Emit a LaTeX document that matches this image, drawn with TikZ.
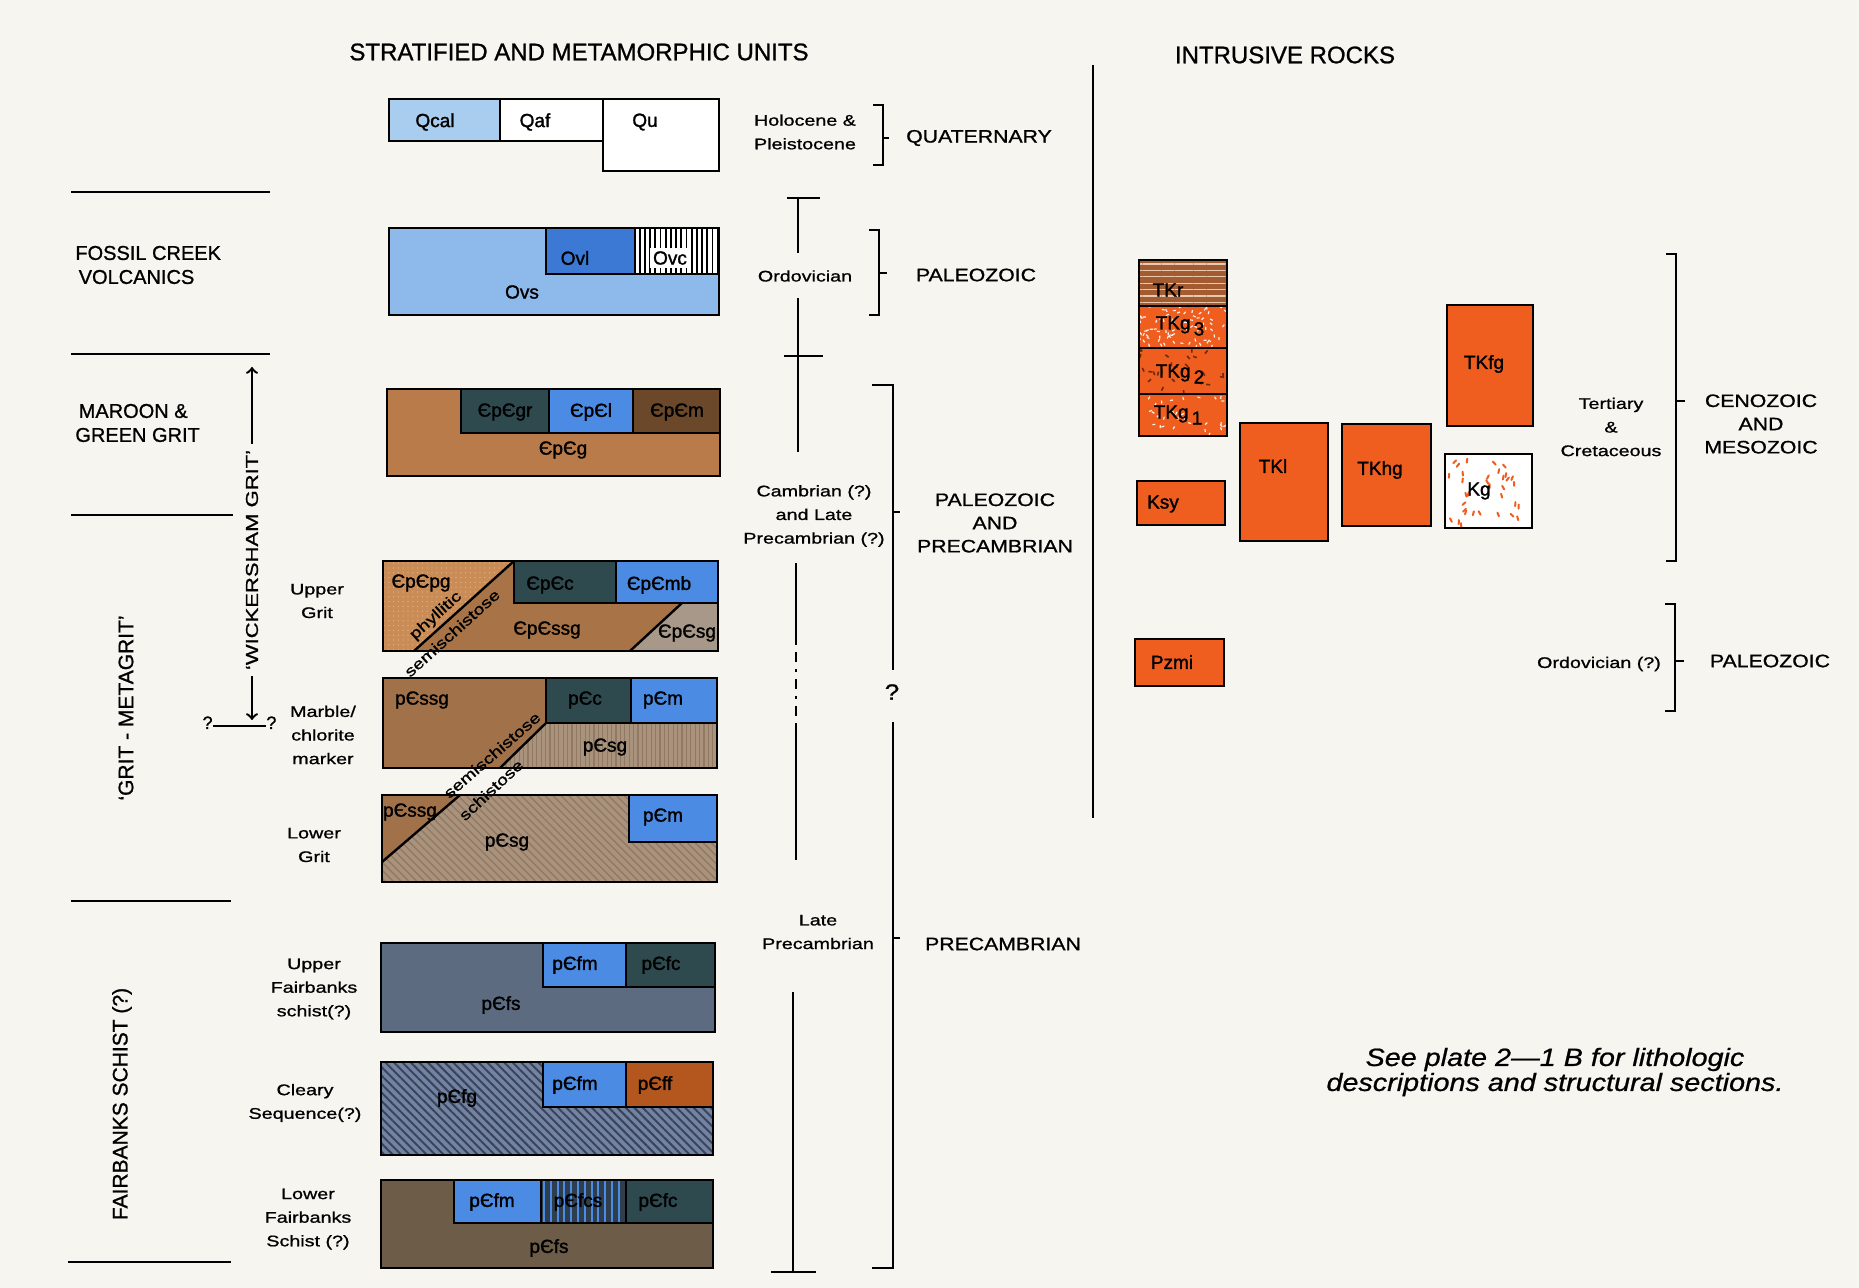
\documentclass[tikz,border=0pt]{standalone}
\usepackage{fontspec}
\setmainfont{Liberation Sans}[FakeBold=1.0]
\newfontfamily\unitfont[FakeBold=1.4]{Liberation Sans}
\newfontfamily\widefont[FakeStretch=1.28,FakeBold=1.0]{Liberation Sans}
\newfontfamily\erafont[FakeStretch=1.18,FakeBold=1.0]{Liberation Sans}
\newfontfamily\notefont[FakeStretch=1.15,FakeBold=0.8]{Liberation Sans}
\usetikzlibrary{patterns.meta}
\definecolor{paper}{HTML}{F6F5EF}
\definecolor{qblue}{HTML}{A9CDEF}
\definecolor{ovsblue}{HTML}{8DBAEA}
\definecolor{ovlblue}{HTML}{3B79D4}
\definecolor{unitblue}{HTML}{4B8BE4}
\definecolor{slate}{HTML}{2E4A4F}
\definecolor{gritbrown}{HTML}{B97B4A}
\definecolor{maroon}{HTML}{6A4829}
\definecolor{phyll}{HTML}{CA8C56}
\definecolor{phylldot}{HTML}{E4B081}
\definecolor{semibrown}{HTML}{A87447}
\definecolor{schgray}{HTML}{A8988A}
\definecolor{pssg}{HTML}{A1714A}
\definecolor{psg}{HTML}{AA937D}
\definecolor{psgline}{HTML}{917964}
\definecolor{fsblue}{HTML}{5C6B80}
\definecolor{fgblue}{HTML}{7283A3}
\definecolor{fgline}{HTML}{3A4358}
\definecolor{ffbrown}{HTML}{B4571F}
\definecolor{fsolive}{HTML}{6C5C48}
\definecolor{fcsdark}{HTML}{2F3E4C}
\definecolor{intr}{HTML}{EF5E1F}
\definecolor{tkrbrown}{HTML}{A35C31}
\definecolor{tkrline}{HTML}{E8C9AE}
\definecolor{fleck}{HTML}{6E2A10}

\begin{document}
\begin{tikzpicture}[x=0.5pt,y=-0.5pt,
  box/.style={draw=black,line width=1.2pt},
  bar/.style={black,line width=1.2pt},
  unit/.style={inner sep=0pt,font=\unitfont\fontsize{9.5}{11}\selectfont},
  tag/.style={inner sep=0pt,align=center,font=\widefont\fontsize{7.7}{11.8}\selectfont},
  era/.style={inner sep=0pt,align=center,font=\erafont\fontsize{9}{11.6}\selectfont},
  group/.style={inner sep=0pt,align=left,font=\fontsize{10}{12}\selectfont},
  slant/.style={inner sep=0pt,font=\widefont\fontsize{7.6}{9}\selectfont},
  head/.style={inner sep=0pt,font=\fontsize{12}{14}\selectfont}]
  \useasboundingbox (0,0) rectangle (1859,1288);
  \fill[paper] (0,0) rectangle (1859,1288);
  \pgfmathsetseed{11}

  \node[head] (strathead) at (579,52) {STRATIFIED AND METAMORPHIC UNITS};
  \node[head] (intrhead) at (1285,55) {INTRUSIVE ROCKS};
  \draw[bar] (1093,65) -- (1093,818);

  % left column
  \draw[bar,line width=1.4pt] (71,192) -- (270,192);
  \draw[bar,line width=1.4pt] (71,354) -- (270,354);
  \draw[bar,line width=1.4pt] (71,515) -- (233,515);
  \draw[bar,line width=1.4pt] (71,901) -- (231,901);
  \draw[bar,line width=1.4pt] (68,1262) -- (231,1262);
  \node[group,anchor=west] (fossil) at (75,265) {FOSSIL CREEK\\\,VOLCANICS};
  \node[group,anchor=west] (maroon) at (75,423) {\,MAROON \&\\GREEN GRIT};
  \node[group,rotate=90,font=\fontsize{10.5}{12}\selectfont] (metagrit) at (126,708) {‘GRIT - METAGRIT’};
  \node[group,rotate=90,font=\fontsize{10.5}{12}\selectfont] (fbschist) at (122,1104) {FAIRBANKS SCHIST (?)};
  \node[tag,rotate=90,font=\widefont\fontsize{8.6}{10}\selectfont] (wick) at (252,560) {‘WICKERSHAM GRIT’};
  \coordinate (wtop) at (252,367);
  \coordinate (wbot) at (252,720);
  \draw[bar,->] ([yshift=3pt]wick.east) -- (wtop);
  \draw[bar,->] ([yshift=-3pt]wick.west) -- (wbot);
  \node[group,anchor=base east,font=\fontsize{9}{10}\selectfont] (qleft) at (213,729) {?};
  \node[group,anchor=base west,font=\fontsize{9}{10}\selectfont] (qright) at (266,729) {?};
  \draw[bar] ([yshift=1.6pt]qleft.base east) -- ([yshift=1.6pt]qright.base west);

  \node[tag] (upgrit) at (317,601) {Upper\\Grit};
  \node[tag] (marble) at (323,735) {Marble/\\chlorite\\marker};
  \node[tag] (lowgrit) at (314,845) {Lower\\Grit};
  \node[tag] (upfb) at (314,989) {Upper\\Fairbanks\\schist(?)};
  \node[tag] (cleary) at (305,1103) {Cleary\\Sequence(?)};
  \node[tag] (lowfb) at (308,1219) {Lower\\Fairbanks\\Schist (?)};

  % quaternary
  \draw[box,fill=qblue] (389,99) rectangle (500,141);
  \draw[box,fill=white] (500,99) rectangle (603,141);
  \draw[box,fill=white] (603,99) rectangle (719,171);
  \node[unit] (qcal) at (435,122) {Qcal};
  \node[unit] (qaf) at (535,122) {Qaf};
  \node[unit] (qu) at (645,122) {Qu};

  % fossil creek volcanics
  \draw[box,fill=ovsblue] (389,228) rectangle (719,315);
  \draw[box,fill=ovlblue] (546,228) rectangle (635,274);
  \fill[white] (635,228) rectangle (719,274);
  \fill[pattern={Lines[angle=90,distance=2.6pt,line width=0.9pt]},pattern color=black] (635,228) rectangle (719,274);
  \draw[box] (635,228) rectangle (719,274);
  \node[unit] (ovs) at (522,292) {Ovs};
  \node[unit] (ovl) at (575,258) {Ovl};
  \node[unit,fill=white,inner sep=1.5pt] (ovc) at (670,258) {Ovc};

  % maroon and green grit
  \draw[box,fill=gritbrown] (387,389) rectangle (720,476);
  \draw[box,fill=slate] (461,389) rectangle (549,433);
  \draw[box,fill=unitblue] (549,389) rectangle (633,433);
  \draw[box,fill=maroon] (633,389) rectangle (720,433);
  \node[unit] (cgr) at (505,412) {ЄpЄgr};
  \node[unit] (cl) at (591,412) {ЄpЄl};
  \node[unit] (cm) at (677,412) {ЄpЄm};
  \node[unit] (cg) at (563,450) {ЄpЄg};

  % upper grit
  \fill[semibrown] (383,561) rectangle (718,651);
  \fill[phyll] (383,561) -- (514,561) -- (414,651) -- (383,651) -- cycle;
  \fill[pattern={Dots[distance=2.4pt,radius=0.35pt]},pattern color=phylldot] (383,561) -- (514,561) -- (414,651) -- (383,651) -- cycle;
  \fill[schgray] (682,603) -- (718,603) -- (718,651) -- (630,651) -- cycle;
  \draw[box,fill=slate] (514,561) rectangle (616,603);
  \draw[box,fill=unitblue] (616,561) rectangle (718,603);
  \draw[box] (514,561) -- (414,651);
  \draw[box] (682,603) -- (630,651);
  \draw[box] (383,561) rectangle (718,651);
  \node[unit] (cpg) at (421,583) {ЄpЄpg};
  \node[unit] (cc) at (550,585) {ЄpЄc};
  \node[unit] (cmb) at (659,585) {ЄpЄmb};
  \node[unit] (cssg) at (547,630) {ЄpЄssg};
  \node[unit] (csg) at (687,633) {ЄpЄsg};

  % marble / chlorite marker
  \fill[psg] (383,678) rectangle (717,768);
  \fill[pattern={Lines[angle=90,distance=2.2pt,line width=0.6pt]},pattern color=psgline] (546,723) -- (717,723) -- (717,768) -- (500,768) -- cycle;
  \fill[pssg] (383,678) -- (546,678) -- (546,723) -- (500,768) -- (383,768) -- cycle;
  \draw[box,fill=slate] (546,678) rectangle (631,723);
  \draw[box,fill=unitblue] (631,678) rectangle (717,723);
  \draw[box] (546,723) -- (500,768);
  \draw[box] (383,678) rectangle (717,768);
  \node[unit] (pssg1) at (422,700) {pЄssg};
  \node[unit] (pc) at (585,700) {pЄc};
  \node[unit] (pm1) at (663,700) {pЄm};
  \node[unit] (psg1) at (605,747) {pЄsg};

  % lower grit
  \fill[psg] (382,795) rectangle (717,882);
  \fill[pattern={Lines[angle=-45,distance=2.8pt,line width=0.7pt]},pattern color=psgline] (382,795) rectangle (717,882);
  \fill[pssg] (382,795) -- (460,795) -- (382,862) -- cycle;
  \draw[box,fill=unitblue] (629,795) rectangle (717,842);
  \draw[box] (460,795) -- (382,862);
  \draw[box] (382,795) rectangle (717,882);
  \node[unit] (pssg2) at (410,812) {pЄssg};
  \node[unit] (psg2) at (507,842) {pЄsg};
  \node[unit] (pm2) at (663,817) {pЄm};

  % slanted grade words
  \node[slant,rotate=42] (phyllitic) at (436,616) {phyllitic};
  \node[slant,rotate=42] (semi1) at (452,633) {semischistose};
  \node[slant,rotate=41] (semi2) at (492,755) {semischistose};
  \node[slant,rotate=43] (schist) at (491,790) {schistose};

  % upper fairbanks schist
  \draw[box,fill=fsblue] (381,943) rectangle (715,1032);
  \draw[box,fill=unitblue] (543,943) rectangle (626,987);
  \draw[box,fill=slate] (626,943) rectangle (715,987);
  \node[unit] (pfs1) at (501,1005) {pЄfs};
  \node[unit] (pfm1) at (575,965) {pЄfm};
  \node[unit] (pfc1) at (661,965) {pЄfc};

  % cleary sequence
  \fill[fgblue] (381,1062) rectangle (713,1155);
  \fill[pattern={Lines[angle=-45,distance=3pt,line width=1pt]},pattern color=fgline] (381,1062) rectangle (713,1155);
  \draw[box] (381,1062) rectangle (713,1155);
  \draw[box,fill=unitblue] (543,1062) rectangle (626,1107);
  \draw[box,fill=ffbrown] (626,1062) rectangle (713,1107);
  \node[unit] (pfg) at (457,1098) {pЄfg};
  \node[unit] (pfm2) at (575,1085) {pЄfm};
  \node[unit] (pff) at (655,1085) {pЄff};

  % lower fairbanks schist
  \draw[box,fill=fsolive] (381,1180) rectangle (713,1268);
  \draw[box,fill=unitblue] (454,1180) rectangle (541,1223);
  \fill[fcsdark] (541,1180) rectangle (626,1223);
  \fill[pattern={Lines[angle=90,distance=3.4pt,line width=1pt]},pattern color=unitblue] (541,1180) rectangle (626,1223);
  \draw[box] (541,1180) rectangle (626,1223);
  \draw[box,fill=slate] (626,1180) rectangle (713,1223);
  \node[unit] (pfs2) at (549,1248) {pЄfs};
  \node[unit] (pfm3) at (492,1202) {pЄfm};
  \node[unit] (pfcs) at (578,1202) {pЄfcs};
  \node[unit] (pfc2) at (658,1202) {pЄfc};

  % ages
  \node[tag] (holo) at (805,132) {Holocene \&\\Pleistocene};
  \node[tag] (ordo) at (805,276) {Ordovician};
  \node[tag] (camb) at (814,516) {Cambrian (?)\\and Late\\Precambrian (?)};
  \node[tag] (lateprec) at (818,932) {Late\\Precambrian};
  \draw[bar] (787,198) -- (820,198);
  \draw[bar] (798,198) -- (798,253);
  \draw[bar] (798,298) -- (798,452);
  \draw[bar] (784,356) -- (823,356);
  \draw[bar] (796,563) -- (796,645);
  \draw[bar,dash pattern=on 5pt off 3.5pt on 1.5pt off 3.5pt] (796,652) -- (796,718);
  \draw[bar] (796,723) -- (796,860);
  \draw[bar] (793,992) -- (793,1272);
  \draw[bar] (771,1272) -- (816,1272);

  \draw[bar] (873,105) -- (883,105) -- (883,165) -- (873,165);
  \draw[bar] (883,138) -- (889,138);
  \draw[bar] (869,230) -- (879,230) -- (879,315) -- (869,315);
  \draw[bar] (879,273) -- (887,273);
  \draw[bar] (872,385) -- (893,385) -- (893,670);
  \draw[bar] (893,512) -- (900,512);
  \node[era,font=\erafont\fontsize{11}{12}\selectfont] (qmark) at (892,692) {?};
  \draw[bar] (893,722) -- (893,1268) -- (872,1268);
  \draw[bar] (893,938) -- (900,938);
  \node[era] (quat) at (979,138) {QUATERNARY};
  \node[era] (paleo) at (976,275) {PALEOZOIC};
  \node[era] (pzpc) at (995,523) {PALEOZOIC\\AND\\PRECAMBRIAN};
  \node[era] (precamb) at (1003,944) {PRECAMBRIAN};

  % intrusive rocks
  \fill[tkrbrown] (1139,260) rectangle (1227,306);
  \fill[pattern={Lines[angle=0,distance=3.2pt,line width=0.6pt]},pattern color=tkrline] (1139,260) rectangle (1227,306);
  \fill[intr] (1139,306) rectangle (1227,436);
  \begin{scope}
    \clip (1139,306) rectangle (1227,348);
    \foreach \k in {1,...,80}
      \draw[white!90!intr,line width=0.6pt] ({1139+88*rnd},{306+42*rnd}) -- ++({180*rnd}:3);
  \end{scope}
  \begin{scope}
    \clip (1139,348) rectangle (1227,394);
    \foreach \k in {1,...,30}
      \draw[fleck,line width=0.8pt] ({1139+88*rnd},{348+46*rnd}) -- ++({180*rnd}:4);
  \end{scope}
  \begin{scope}
    \clip (1139,394) rectangle (1227,436);
    \foreach \k in {1,...,35}
      \draw[white!90!intr,line width=0.6pt] ({1139+88*rnd},{394+42*rnd}) -- ++({180*rnd}:3);
  \end{scope}
  \draw[box] (1139,260) rectangle (1227,436);
  \draw[box] (1139,306) -- (1227,306) (1139,348) -- (1227,348) (1139,394) -- (1227,394);
  \draw[box,fill=intr] (1137,481) rectangle (1225,525);
  \draw[box,fill=intr] (1240,423) rectangle (1328,541);
  \draw[box,fill=intr] (1342,424) rectangle (1431,526);
  \draw[box,fill=intr] (1447,305) rectangle (1533,426);
  \fill[white] (1445,454) rectangle (1532,528);
  \begin{scope}
    \clip (1445,454) rectangle (1532,528);
    \foreach \k in {1,...,34}
      \draw[intr,line width=1pt,line cap=round] ({1449+79*rnd},{458+66*rnd}) -- ++({40+100*rnd}:4);
  \end{scope}
  \draw[box] (1445,454) rectangle (1532,528);
  \draw[box,fill=intr] (1135,639) rectangle (1224,686);
  \node[unit] (tkr) at (1168,290) {TKr};
  \node[unit] (tkg3) at (1180,326) {TKg\,\raisebox{-0.6ex}{3}};
  \node[unit] (tkg2) at (1180,374) {TKg\,\raisebox{-0.6ex}{2}};
  \node[unit] (tkg1) at (1178,415) {TKg\,\raisebox{-0.6ex}{1}};
  \node[unit] (ksy) at (1163,504) {Ksy};
  \node[unit] (tkl) at (1273,466) {TKl};
  \node[unit] (tkhg) at (1380,470) {TKhg};
  \node[unit] (tkfg) at (1484,364) {TKfg};
  \node[unit] (kg) at (1479,491) {Kg};
  \node[unit] (pzmi) at (1172,662) {Pzmi};

  \node[tag] (tertcret) at (1611,427) {Tertiary\\\&\\Cretaceous};
  \draw[bar] (1666,254) -- (1676,254) -- (1676,561) -- (1666,561);
  \draw[bar] (1676,401) -- (1685,401);
  \node[era] (cenomeso) at (1761,424) {CENOZOIC\\AND\\MESOZOIC};
  \node[tag] (ordoq) at (1599,664) {Ordovician (?)};
  \draw[bar] (1665,604) -- (1675,604) -- (1675,711) -- (1665,711);
  \draw[bar] (1675,661) -- (1684,661);
  \node[era] (paleo2) at (1770,661) {PALEOZOIC};

  \node[align=center,inner sep=0pt,font=\notefont\itshape\fontsize{12.5}{12.5}\selectfont] (note) at (1555,1072)
       {See plate 2—1 B for lithologic\\descriptions and structural sections.};
\end{tikzpicture}
\end{document}
